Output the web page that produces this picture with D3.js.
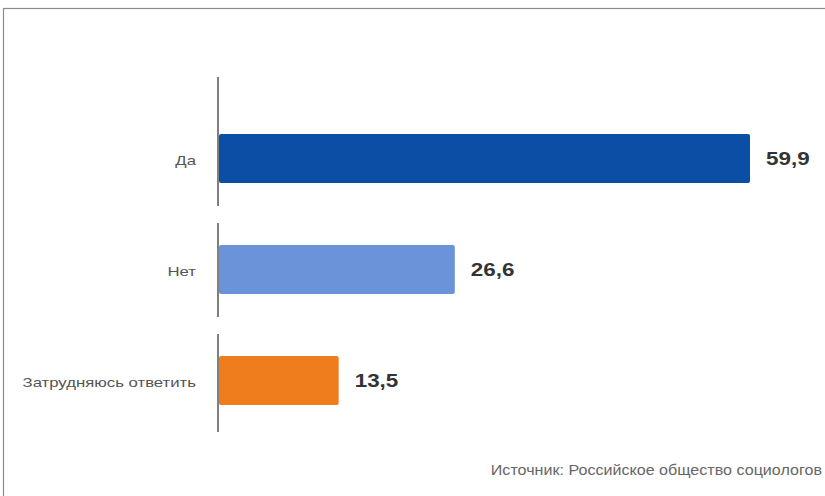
<!DOCTYPE html>
<html>
<head>
<meta charset="utf-8">
<script src="https://cdn.jsdelivr.net/npm/d3@7"></script>
<style>
  body { margin: 0; background: #fff; }
  svg { display: block; font-family: "Liberation Sans", Arial, sans-serif; }
</style>
</head>
<body>
<svg class="chart"></svg>
<script>
var categories = ["Да", "Нет", "Затрудняюсь ответить"];
var values = [59.9, 26.6, 13.5];
var valueLabels = ["59,9", "26,6", "13,5"];
var barColors = ["#0b4ea6", "#6b93d9", "#ef7d1c"];
var sourceText = "Источник: Российское общество социологов";

var width = 825, height = 496;

var svg = d3.select(".chart")
    .attr("width", width)
    .attr("height", height);

// outer frame (right and bottom edges run off the picture)
svg.append("rect")
    .attr("x", 3.5)
    .attr("y", 8.5)
    .attr("width", 840)
    .attr("height", 500)
    .attr("fill", "none")
    .attr("stroke", "#8a8a8a")
    .attr("stroke-width", 1.2);

var x = d3.scaleLinear()
    .domain([0, 59.9])
    .range([219, 750]);

var y = d3.scaleBand()
    .domain(categories)
    .range([103, 436])
    .paddingInner(0.56)
    .paddingOuter(0.28);

var rows = categories.map(function(c, i) {
    return { cat: c, value: values[i], label: valueLabels[i], color: barColors[i] };
});

// broken axis line, one piece per category
var step = y.step();
var axisG = svg.append("g");
categories.forEach(function(c, i) {
    var mid = y(c) + y.bandwidth() / 2;
    var top = i === 0 ? 77 : mid - step / 2 + 9;
    var bottom = i === categories.length - 1 ? 432 : mid + step / 2 - 8;
    axisG.append("line")
        .attr("x1", x(0) - 1).attr("x2", x(0) - 1)
        .attr("y1", top).attr("y2", bottom)
        .attr("stroke", "#555")
        .attr("stroke-width", 1.5);
});

var bar = svg.append("g")
    .selectAll("g")
    .data(rows)
    .enter().append("g");

bar.append("rect")
    .attr("x", x(0))
    .attr("y", function(d) { return y(d.cat); })
    .attr("width", function(d) { return x(d.value) - x(0); })
    .attr("height", y.bandwidth())
    .attr("rx", 2)
    .attr("fill", function(d) { return d.color; });

// text in the picture is slightly stretched sideways
bar.append("text")
    .attr("transform", function(d) {
        return "translate(" + (x(d.value) + 16) + "," + (y(d.cat) + y.bandwidth() / 2) + ") scale(1.18,1)";
    })
    .attr("dy", "0.36em")
    .attr("font-size", 19)
    .attr("font-weight", "bold")
    .attr("fill", "#333")
    .text(function(d) { return d.label; });

bar.append("text")
    .attr("transform", function(d) {
        return "translate(196," + (y(d.cat) + y.bandwidth() / 2 + 2) + ") scale(1.34,1)";
    })
    .attr("dy", "0.35em")
    .attr("text-anchor", "end")
    .attr("font-size", 12.5)
    .attr("fill", "#555")
    .text(function(d) { return d.cat; });

svg.append("text")
    .attr("transform", "translate(822,475) scale(1.15,1)")
    .attr("text-anchor", "end")
    .attr("font-size", 14)
    .attr("fill", "#666")
    .text(sourceText);
</script>
</body>
</html>
